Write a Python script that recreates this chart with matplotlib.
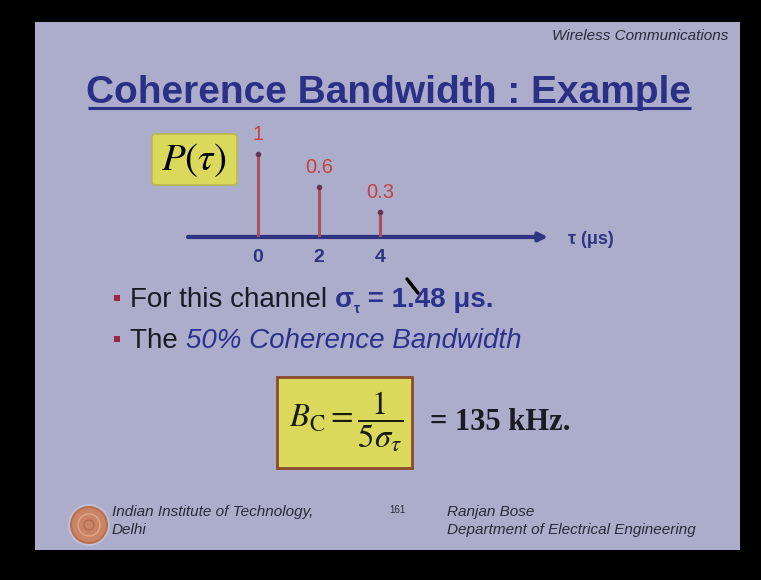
import matplotlib
matplotlib.use("Agg")
import matplotlib.pyplot as plt
from matplotlib.patches import Rectangle, Circle, FancyBboxPatch

# power delay profile of the example channel
tau = [0, 2, 4]            # excess delay, microseconds
power = [1.0, 0.6, 0.3]    # relative power

W, H = 761, 580
slide_col = "#ABADCA"
title_blue = "#2B2F86"
axis_blue = "#2E3382"
stem_red = "#A9505C"
label_red = "#C8403F"
dark = "#1B1B28"
blue_txt = "#2C318E"
yellow = "#DAD95C"

fig = plt.figure(figsize=(W / 100, H / 100), dpi=100, facecolor="black")

# full-figure axes in pixel units for the slide itself
bg = fig.add_axes([0, 0, 1, 1])
bg.set_xlim(0, W)
bg.set_ylim(H, 0)
bg.axis("off")
bg.set_facecolor("black")
bg.add_patch(Rectangle((35, 22), 705, 528, facecolor=slide_col, edgecolor="none"))

bg.text(728, 36, "Wireless Communications", ha="right", va="center",
        fontsize=11, style="italic", family="Liberation Sans", color="#2A2A3A")

bg.text(389, 103, "Coherence Bandwidth : Example", ha="center", va="baseline",
        fontsize=28, weight="bold", family="Liberation Sans", color=title_blue)
bg.plot([88, 691], [108, 108], color=title_blue, lw=2.2, solid_capstyle="butt")

# P(tau) label box
bg.add_patch(FancyBboxPatch((153, 135), 83, 49, boxstyle="round,pad=1,rounding_size=3",
                            facecolor=yellow, edgecolor="#B9B84E", lw=1.2))
bg.text(194, 160, r"$P(\tau)$", ha="center", va="center", fontsize=28,
        math_fontfamily="stix", color="black")

# stem plot of the delay profile
px_per_us = 30.5
x0_px = 258
left_px, right_px = 188, 548
base_px, top_px = 237, 120
px_per_unit = 83
ax = fig.add_axes([left_px / W, 1 - base_px / H, (right_px - left_px) / W,
                   (base_px - top_px) / H])
ax.set_xlim((left_px - x0_px) / px_per_us, (right_px - x0_px) / px_per_us)
ax.set_ylim(0, (base_px - top_px) / px_per_unit)
ax.patch.set_alpha(0)
for s in ax.spines.values():
    s.set_visible(False)
ax.set_yticks([])
ax.set_xticks(tau, labels=[f"{t:g}" for t in tau])
ax.tick_params(axis="x", length=0, pad=9, labelsize=14, labelcolor=axis_blue)
for lab in ax.get_xticklabels():
    lab.set_fontweight("bold")
    lab.set_family("Liberation Sans")

xmin, xmax = ax.get_xlim()
ax.annotate("", xy=(xmax, 0), xytext=(xmin, 0), annotation_clip=False,
            arrowprops=dict(arrowstyle="-|>,head_length=0.5,head_width=0.25",
                            lw=3, color=axis_blue, shrinkA=0, shrinkB=0))
ax.vlines(tau, 0, power, color=stem_red, lw=2.2, zorder=3)
ax.plot(tau, power, "o", ms=3, color="#6A3550", zorder=4, clip_on=False)
for t, p in zip(tau, power):
    ax.annotate(f"{p:g}", (t, p), xytext=(0, 7), textcoords="offset points",
                ha="center", va="bottom", fontsize=14.5, color=label_red,
                family="Liberation Sans", annotation_clip=False)

bg.text(568, 239, "τ (μs)", ha="left", va="center", fontsize=13,
        weight="bold", family="Liberation Sans", color=axis_blue)

# bullet lines, built piece by piece
renderer = fig.canvas.get_renderer()


def chain(x, y, pieces):
    for s, dy, kw in pieces:
        t = bg.text(x, y + dy, s, va="baseline", ha="left", **kw)
        x += t.get_window_extent(renderer).width


body = dict(fontsize=20, family="Liberation Sans")
bold_blue = dict(color=blue_txt, weight="bold", **body)
bg.add_patch(Rectangle((114, 295), 6, 6, facecolor="#9A2545", edgecolor="none"))
bg.add_patch(Rectangle((114, 336), 6, 6, facecolor="#9A2545", edgecolor="none"))
chain(130, 307, [
    ("For this channel ", 0, dict(color=dark, **body)),
    ("σ", 0, bold_blue),
    ("τ", 6, dict(color=blue_txt, weight="bold", fontsize=10, family="Liberation Sans")),
    (" = 1.48 μs.", 0, bold_blue),
])
chain(130, 348, [
    ("The ", 0, dict(color=dark, **body)),
    ("50% Coherence Bandwidth", 0, dict(color=blue_txt, style="italic", **body)),
])

# pen mark left on the slide
bg.plot([407, 418], [279, 293], color="black", lw=2.5, solid_capstyle="round")

# coherence bandwidth formula
bg.add_patch(Rectangle((277, 377), 135, 91, facecolor=yellow, edgecolor="#8A4A2C", lw=2))
bg.text(346, 422, r"$B_{\mathrm{C}} = \dfrac{1}{5\sigma_{\tau}}$", ha="center",
        va="center", fontsize=23.5, math_fontfamily="stix", color="#1A1A10")
bg.text(430, 423, "= 135 kHz.", ha="left", va="center", fontsize=22,
        weight="bold", family="Liberation Serif", color=dark)

# footer with the institute seal
bg.add_patch(Circle((89, 525), 21, facecolor="#BFC0D6", edgecolor="none"))
bg.add_patch(Circle((89, 525), 18, facecolor="#C98466", edgecolor="#B8704E", lw=1.5))
bg.add_patch(Circle((89, 525), 11, facecolor="none", edgecolor="#E0A88A", lw=1))
bg.add_patch(Circle((89, 525), 5, facecolor="none", edgecolor="#B06A50", lw=1))
foot = dict(fontsize=11, style="italic", family="Liberation Sans", color="#2A2A3A",
            va="center", ha="left")
bg.text(112, 512, "Indian Institute of Technology,", **foot)
bg.text(112, 530, "Delhi", **foot)
bg.text(389, 510, "161", fontsize=7, family="Liberation Sans", color="#2A2A3A",
        va="center", ha="left")
bg.text(447, 512, "Ranjan Bose", **foot)
bg.text(447, 530, "Department of Electrical Engineering", **foot)

fig.savefig("out.png", dpi=100, facecolor="black")
